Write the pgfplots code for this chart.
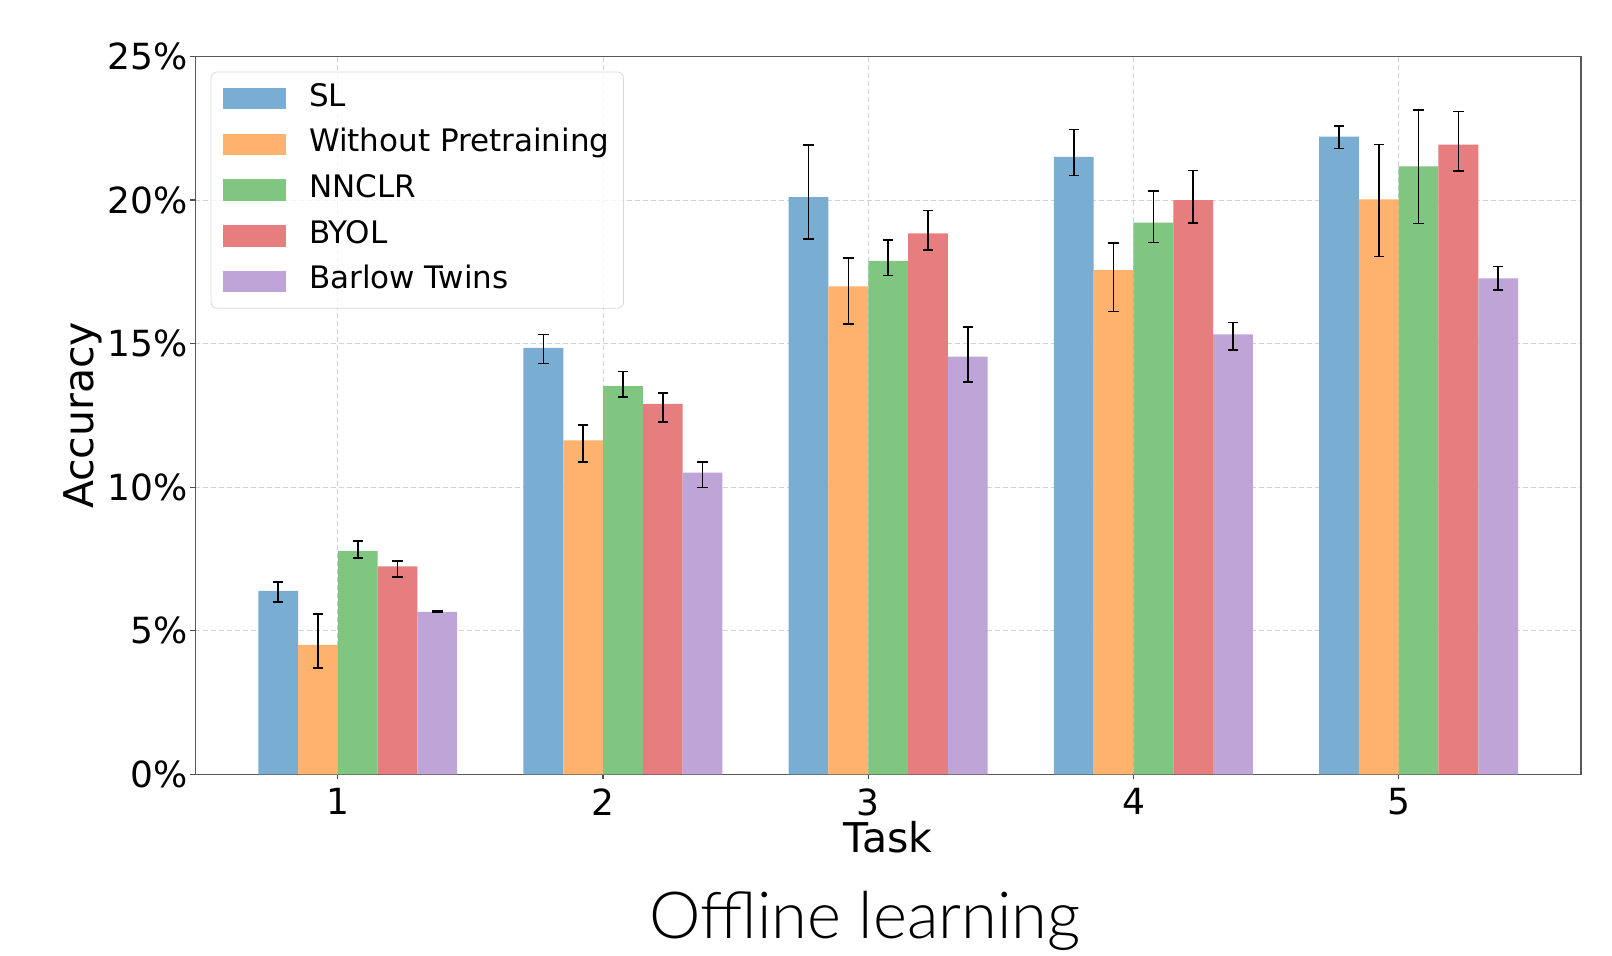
\documentclass[border=0pt]{standalone}
\usepackage{pgfplots}
\pgfplotsset{compat=1.18}
\usepackage{fontspec}
\setmainfont{DejaVu Sans}
\newfontfamily\titlefont{Lato Light}

% tab10 colours at 60% opacity over white
\definecolor{cSL}{RGB}{121,173,210}
\definecolor{cWP}{RGB}{255,178,110}
\definecolor{cNN}{RGB}{128,198,128}
\definecolor{cBY}{RGB}{230,125,126}
\definecolor{cBT}{RGB}{191,164,215}

\begin{document}
\begin{tikzpicture}[x=1pt,y=1pt]
\path[use as bounding box, fill=white] (0,0) rectangle (806,477.5);
\begin{axis}[
  at={(97.65pt,90.35pt)}, anchor=south west,
  scale only axis, width=692.85pt, height=358.9pt,
  ybar, bar width=0.15,
  xmin=0.4625, xmax=5.6875, ymin=0, ymax=25,
  xtick={1,2,3,4,5}, ytick={0,5,10,15,20,25},
  tick pos=left,
  yticklabel={\pgfmathprintnumber{\tick}\%},
  /pgf/number format/assume math mode=true,
  tick label style={font=\fontsize{18}{21}\selectfont},
  yticklabel style={inner xsep=0pt, xshift=-1.2pt},
  xticklabel style={inner ysep=0pt, yshift=-4.5pt},
  label style={font=\fontsize{20.5}{24}\selectfont},
  xlabel={Task}, ylabel={Accuracy},
  xlabel style={at={(axis description cs:0.5,-0.1083)}, anchor=base},
  ylabel style={at={(axis description cs:-0.081,0.5)}, anchor=center},
  tick align=outside, major tick length=2.5pt,
  tick style={black!70, line width=0.6pt},
  axis line style={black!65, line width=0.7pt},
  grid=major,
  major grid style={dash pattern=on 2.5pt off 1.5pt, black!18, line width=0.5pt},
  legend cell align=left,
  legend style={at={(0.0111,0.979)}, anchor=north west,
    draw=black!15, rounded corners=3pt, fill=white, fill opacity=0.8,
    text opacity=1, draw opacity=1,
    font=\fontsize{15.5}{18}\selectfont,
    inner xsep=4pt, inner ysep=4.6pt, row sep=5.35pt,
    nodes={text height=11pt, text depth=3.5pt, inner ysep=1.5pt, inner xsep=3pt}},
  legend image code/.code={\path (2pt,0pt);
    \fill[#1, fill opacity=1, draw=none, sharp corners] (4pt,-5.4pt) rectangle (35.35pt,5.4pt);
    \path (44pt,0pt);},
  error bars/y dir=both, error bars/y explicit,
  error bars/error bar style={black, line width=0.8pt},
  error bars/error mark options={black, rotate=90, mark size=2.6pt, line width=0.8pt},
]
% bars: mean accuracy; error bars: upper / lower extent
\addplot[fill=cSL, draw=none, bar shift=-0.225] coordinates {
  (1,6.39)  += (0,0.30) -= (0,0.39)
  (2,14.85) += (0,0.47) -= (0,0.54)
  (3,20.10) += (0,1.82) -= (0,1.46)
  (4,21.50) += (0,0.96) -= (0,0.65)
  (5,22.21) += (0,0.36) -= (0,0.41)
};
\addplot[fill=cWP, draw=none, bar shift=-0.075] coordinates {
  (1,4.51)  += (0,1.07) -= (0,0.81)
  (2,11.63) += (0,0.53) -= (0,0.76)
  (3,16.99) += (0,1.00) -= (0,1.31)
  (4,17.56) += (0,0.95) -= (0,1.44)
  (5,20.02) += (0,1.92) -= (0,1.99)
};
\addplot[fill=cNN, draw=none, bar shift=0.075] coordinates {
  (1,7.78)  += (0,0.34) -= (0,0.24)
  (2,13.52) += (0,0.51) -= (0,0.37)
  (3,17.88) += (0,0.73) -= (0,0.51)
  (4,19.21) += (0,1.10) -= (0,0.69)
  (5,21.17) += (0,1.97) -= (0,1.98)
};
\addplot[fill=cBY, draw=none, bar shift=0.225] coordinates {
  (1,7.24)  += (0,0.19) -= (0,0.37)
  (2,12.90) += (0,0.38) -= (0,0.62)
  (3,18.84) += (0,0.80) -= (0,0.58)
  (4,20.00) += (0,1.03) -= (0,0.79)
  (5,21.93) += (0,1.16) -= (0,0.91)
};
\addplot[fill=cBT, draw=none, bar shift=0.375] coordinates {
  (1,5.66)  += (0,0.02) -= (0,0.02)
  (2,10.51) += (0,0.36) -= (0,0.52)
  (3,14.55) += (0,1.03) -= (0,0.89)
  (4,15.32) += (0,0.42) -= (0,0.54)
  (5,17.27) += (0,0.42) -= (0,0.40)
};
\legend{SL, Without Pretraining, NNCLR, BYOL, Barlow Twins}
\end{axis}
\node[font=\titlefont\fontsize{32.5}{38}\selectfont, anchor=base] at (432.5,8.5) {Offline learning};
\end{tikzpicture}
\end{document}
